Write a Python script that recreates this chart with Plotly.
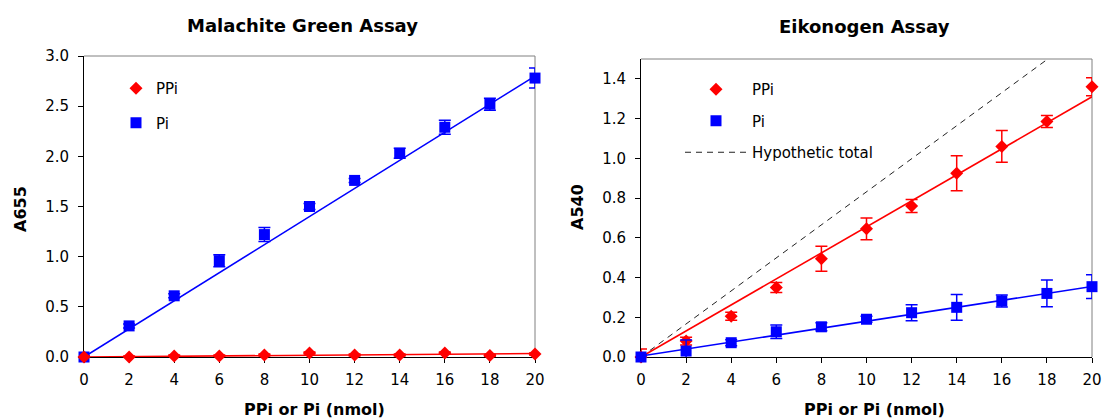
import plotly.graph_objects as go

# ---------------- data ----------------
dose_nmol = [0, 2, 4, 6, 8, 10, 12, 14, 16, 18, 20]

# Malachite Green assay (A655)
mg_ppi = [0.00, 0.00, 0.01, 0.01, 0.02, 0.04, 0.02, 0.02, 0.04, 0.015, 0.03]
mg_ppi_err = [0.01, 0.01, 0.01, 0.01, 0.01, 0.01, 0.01, 0.01, 0.01, 0.01, 0.01]
mg_pi = [0.00, 0.31, 0.61, 0.96, 1.22, 1.50, 1.76, 2.03, 2.29, 2.52, 2.78]
mg_pi_err = [0.01, 0.02, 0.02, 0.06, 0.07, 0.03, 0.02, 0.05, 0.07, 0.06, 0.10]
fit_x = [0, 20]
mg_ppi_fit = [0.0, 0.035]
mg_pi_fit = [0.0, 2.80]

# Eikonogen assay (A540)
ek_ppi = [0.00, 0.08, 0.205, 0.35, 0.495, 0.645, 0.76, 0.925, 1.06, 1.185, 1.36]
ek_ppi_err = [0.04, 0.02, 0.02, 0.025, 0.063, 0.055, 0.033, 0.088, 0.08, 0.03, 0.045]
ek_pi = [0.00, 0.03, 0.072, 0.127, 0.152, 0.19, 0.223, 0.25, 0.282, 0.32, 0.354]
ek_pi_err = [0.01, 0.055, 0.015, 0.034, 0.02, 0.015, 0.04, 0.065, 0.03, 0.067, 0.06]
ek_ppi_fit = [0.0, 1.31]
ek_pi_fit = [0.005, 0.355]
hypo_x = [0, 18.4]
hypo_y = [0.0, 1.53]

titles = ["Malachite Green Assay", "Eikonogen Assay"]
x_title = "PPi or Pi (nmol)"
y_titles = ["A655", "A540"]

# ---------------- style ----------------
RED = "#FF0000"
BLUE = "#0000FF"
FONT = "DejaVu Sans"
W, H = 1103, 420


def px_x(p):
    return p / W


def px_y(p):
    return 1 - p / H


fig = go.Figure()


def fit_line(x, y, color, xa, ya, legend):
    return go.Scatter(x=x, y=y, mode="lines", xaxis=xa, yaxis=ya, legend=legend,
                      showlegend=False, hoverinfo="skip",
                      line=dict(color=color, width=1.6))


def points(x, y, err, color, symbol, size, name, xa, ya, legend, group, rank):
    return go.Scatter(x=x, y=y, mode="markers", name=name, xaxis=xa, yaxis=ya,
                      legend=legend, legendgroup=group, legendrank=rank,
                      cliponaxis=False,
                      marker=dict(color=color, symbol=symbol, size=size, line=dict(width=0)),
                      error_y=dict(type="data", array=err, color=color,
                                   thickness=1.5, width=6))


# left panel: blue drawn first, red on top
fig.add_trace(fit_line(fit_x, mg_pi_fit, BLUE, "x", "y", "legend"))
fig.add_trace(points(dose_nmol, mg_pi, mg_pi_err, BLUE, "square", 11, "Pi",
                     "x", "y", "legend", "mg_pi", 2))
fig.add_trace(fit_line(fit_x, mg_ppi_fit, RED, "x", "y", "legend"))
fig.add_trace(points(dose_nmol, mg_ppi, mg_ppi_err, RED, "diamond", 10, "PPi",
                     "x", "y", "legend", "mg_ppi", 1))

# right panel
fig.add_trace(go.Scatter(x=hypo_x, y=hypo_y, mode="lines", name="Hypothetic total",
                         xaxis="x2", yaxis="y2", legend="legend2",
                         legendgroup="ek_hypo", legendrank=3,
                         line=dict(color="#222222", width=1, dash="6px,5px")))
fig.add_trace(fit_line(fit_x, ek_ppi_fit, RED, "x2", "y2", "legend2"))
fig.add_trace(points(dose_nmol, ek_ppi, ek_ppi_err, RED, "diamond", 10, "PPi",
                     "x2", "y2", "legend2", "ek_ppi", 1))
fig.add_trace(fit_line(fit_x, ek_pi_fit, BLUE, "x2", "y2", "legend2"))
fig.add_trace(points(dose_nmol, ek_pi, ek_pi_err, BLUE, "square", 11, "Pi",
                     "x2", "y2", "legend2", "ek_pi", 2))

tickfont = dict(family=FONT, size=15, color="black")
xcommon = dict(range=[0, 20], dtick=2, tick0=0, ticks="outside", ticklen=5,
               tickcolor="black", tickwidth=1, showline=True, linecolor="black",
               linewidth=1, showgrid=False, zeroline=False, tickfont=tickfont,
               layer="below traces", ticklabelstandoff=4, automargin=False,
               fixedrange=True)
ycommon = dict(ticks="outside", ticklen=5, tickcolor="black", tickwidth=1,
               showline=True, linecolor="black", linewidth=1, showgrid=False,
               zeroline=False, tickfont=tickfont, tickformat=".1f",
               layer="below traces", ticklabelstandoff=6, automargin=False,
               fixedrange=True)

fig.update_layout(
    width=W, height=H,
    margin=dict(l=0, r=0, t=0, b=0),
    paper_bgcolor="white", plot_bgcolor="white",
    font=dict(family=FONT, size=15, color="black"),
    xaxis=dict(domain=[px_x(84), px_x(535)], anchor="y", **xcommon),
    yaxis=dict(domain=[px_y(357), px_y(56)], anchor="x", range=[0, 3.0],
               dtick=0.5, tick0=0, **ycommon),
    xaxis2=dict(domain=[px_x(641), px_x(1092)], anchor="y2", **xcommon),
    yaxis2=dict(domain=[px_y(357), px_y(59)], anchor="x2", range=[0, 1.5],
                dtick=0.2, tick0=0, **ycommon),
    legend=dict(x=px_x(116), y=px_y(72), xanchor="left", yanchor="top",
                bgcolor="rgba(0,0,0,0)", font=dict(family=FONT, size=15, color="black"),
                itemwidth=30, tracegroupgap=12, traceorder="grouped"),
    legend2=dict(x=px_x(680), y=px_y(73), xanchor="left", yanchor="top",
                 bgcolor="rgba(0,0,0,0)", font=dict(family=FONT, size=15, color="black"),
                 itemwidth=62, tracegroupgap=9, traceorder="grouped"),
    showlegend=True,
)

# grey top/right frame lines
shapes = []
for xr, yr in [("x domain", "y domain"), ("x2 domain", "y2 domain")]:
    shapes.append(dict(type="line", xref=xr, yref=yr, x0=0, x1=1, y0=1, y1=1,
                       layer="below", line=dict(color="#808080", width=1)))
    shapes.append(dict(type="line", xref=xr, yref=yr, x0=1, x1=1, y0=0, y1=1,
                       layer="below", line=dict(color="#808080", width=1)))
fig.update_layout(shapes=shapes)

# titles
ann = []
for txt, cx, cy in [(titles[0], 302, 25), (titles[1], 864, 27)]:
    ann.append(dict(text=f"<b>{txt}</b>", x=px_x(cx), y=px_y(cy), xref="paper", yref="paper",
                    xanchor="center", yanchor="middle", showarrow=False,
                    font=dict(family=FONT, size=18, color="black")))
for cx in [314, 874]:
    ann.append(dict(text=f"<b>{x_title}</b>", x=px_x(cx), y=px_y(409), xref="paper", yref="paper",
                    xanchor="center", yanchor="middle", showarrow=False,
                    font=dict(family=FONT, size=16, color="black")))
for txt, cx, cy in [(y_titles[0], 20, 209), (y_titles[1], 577, 207)]:
    ann.append(dict(text=f"<b>{txt}</b>", x=px_x(cx), y=px_y(cy), xref="paper", yref="paper",
                    xanchor="center", yanchor="middle", showarrow=False, textangle=-90,
                    font=dict(family=FONT, size=16, color="black")))
fig.update_layout(annotations=ann)

fig.write_html("out.html", config={"displayModeBar": False},
               post_script="document.body.style.margin='0';document.body.style.padding='0';")
